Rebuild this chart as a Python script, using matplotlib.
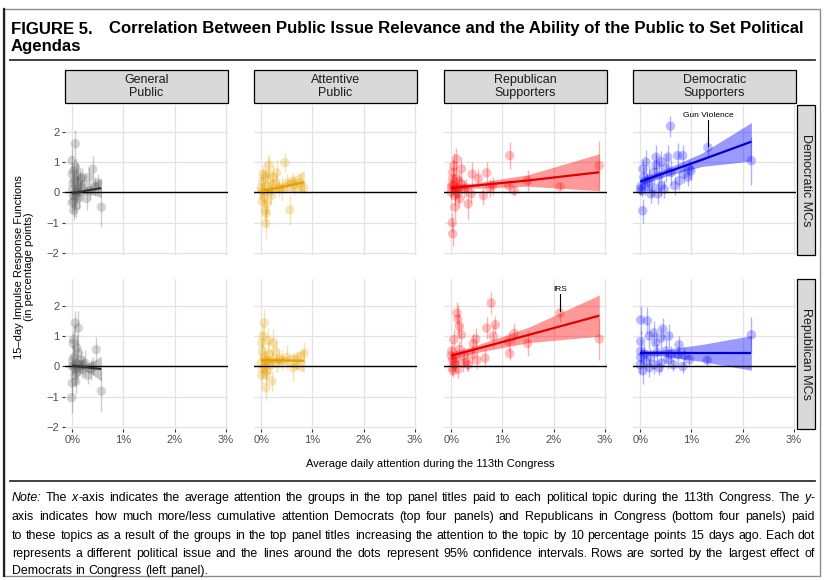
import matplotlib
matplotlib.use("Agg")
import matplotlib.pyplot as plt
from matplotlib.patches import Rectangle
from matplotlib.lines import Line2D
from matplotlib import font_manager
import numpy as np

# ---------------- data ----------------
COLUMNS = ["General\nPublic", "Attentive\nPublic", "Republican\nSupporters", "Democratic\nSupporters"]
ROWS = ["Democratic MCs", "Republican MCs"]
X_TICKS = [0, 1, 2, 3]
X_TICK_LABELS = ["0%", "1%", "2%", "3%"]
Y_TICKS = [-2, -1, 0, 1, 2]

# General public -> Democratic MCs
GEN_DEM_X = [0.06, 0.40, 0.57, 0.33, 0.24, 0.20, 0.10, 0.03, 0.00, 0.02, 0.05, 0.03, 0.00, 0.08, 0.12, 0.15, 0.01, 0.04, 0.07, 0.09, 0.13, 0.18, 0.28, 0.45, 0.50, 0.02, 0.06, 0.11, 0.00, 0.35, 0.03, 0.16]
GEN_DEM_Y = [1.60, 0.76, -0.49, 0.49, 0.25, 0.50, 0.55, 0.70, 1.05, 0.30, -0.15, -0.60, -0.35, -0.45, 0.20, 0.00, 0.10, 0.40, 0.80, 0.10, -0.20, 0.15, -0.20, 0.20, 0.30, -0.10, 0.00, 0.35, 0.60, 0.05, -0.30, 0.45]
GEN_DEM_E = [0.45, 0.45, 0.65, 0.30, 0.35, 0.30, 0.45, 0.40, 0.40, 0.35, 0.40, 0.30, 0.35, 0.35, 0.30, 0.30, 0.30, 0.50, 0.30, 0.40, 0.35, 0.25, 0.40, 0.30, 0.30, 0.20, 0.25, 0.60, 0.40, 0.30, 0.50, 0.35]
# General public -> Republican MCs
GEN_REP_X = [0.06, 0.12, 0.03, -0.01, 0.00, 0.47, 0.57, 0.02, 0.08, 0.10, 0.15, 0.20, 0.25, 0.30, 0.36, 0.04, 0.05, 0.00, 0.12, 0.18, 0.07, 0.01, 0.09, 0.14, 0.03, 0.22, 0.40, 0.06]
GEN_REP_Y = [1.43, 1.26, 0.88, -1.04, -0.55, 0.55, -0.82, 0.75, 0.10, -0.20, 0.05, -0.10, 0.10, -0.30, -0.10, 0.30, -0.30, 0.00, 0.45, 0.20, -0.50, 0.20, 0.60, -0.05, 0.00, 0.05, 0.00, -0.10]
GEN_REP_E = [0.40, 0.55, 0.45, 0.50, 0.40, 0.40, 0.70, 0.40, 0.30, 0.35, 0.30, 0.30, 0.45, 0.30, 0.35, 0.40, 0.35, 0.30, 0.40, 0.30, 0.40, 0.25, 0.45, 0.25, 0.20, 0.30, 0.30, 0.30]
# Attentive public -> Democratic MCs
ATT_DEM_X = [0.46, 0.84, 0.56, 0.09, 0.08, 0.11, 0.05, 0.14, 0.24, 0.28, 0.35, 0.40, 0.03, 0.00, 0.06, 0.12, 0.18, 0.02, 0.07, 0.20, 0.15, 0.30, 0.50, 0.65, 0.10, 0.01, 0.04, 0.22, 0.60, 0.75]
ATT_DEM_Y = [0.98, 0.14, -0.58, -1.03, -0.60, -0.38, -0.16, 0.60, 0.49, 0.30, 0.15, 0.10, 0.35, 0.15, 0.00, 0.20, 0.05, -0.30, 0.50, -0.10, 0.90, 0.65, 0.30, 0.25, -0.70, 0.05, 0.60, 0.25, 0.35, 0.30]
ATT_DEM_E = [0.30, 0.20, 0.50, 0.50, 0.35, 0.35, 0.30, 0.55, 0.40, 0.35, 0.30, 0.40, 0.40, 0.30, 0.35, 0.40, 0.45, 0.30, 0.45, 0.30, 0.35, 0.40, 0.30, 0.35, 0.45, 0.25, 0.30, 0.30, 0.30, 0.30]
# Attentive public -> Republican MCs
ATT_REP_X = [0.06, 0.04, 0.01, 0.09, 0.09, 0.21, 0.24, 0.28, 0.35, 0.84, 0.63, 0.50, 0.00, 0.03, 0.05, 0.07, 0.12, 0.15, 0.18, 0.22, 0.02, 0.11, 0.14, 0.30, 0.40, 0.01, 0.08, 0.70]
ATT_REP_Y = [1.43, 1.00, 0.78, -0.27, -0.71, -0.49, 0.78, 0.50, 0.25, 0.44, -0.05, 0.30, 0.10, -0.10, 0.30, 0.00, 0.15, 0.40, 0.05, 0.20, 0.50, -0.15, 0.85, 0.10, 0.20, -0.30, 0.20, 0.20]
ATT_REP_E = [0.45, 0.40, 0.35, 0.35, 0.40, 0.35, 0.45, 0.35, 0.30, 0.35, 0.45, 0.40, 0.30, 0.30, 0.35, 0.30, 0.35, 0.40, 0.30, 0.30, 0.30, 0.30, 0.40, 0.30, 0.35, 0.30, 0.30, 0.30]
# Republican supporters -> Democratic MCs
REPS_DEM_X = [2.89, 2.12, 1.49, 1.14, 1.23, 1.12, 0.81, 0.69, 0.63, 0.53, 0.41, 0.33, 0.39, 0.20, 0.20, 0.16, 0.10, 0.05, 0.03, 0.02, 0.03, 0.07, 0.07, 0.00, 0.03, 0.12, 0.15, 0.25, 0.00, 0.05, 0.09, 0.13, 0.28, 0.02, 0.75, 0.10]
REPS_DEM_Y = [0.88, 0.19, 0.38, 1.21, 0.05, 0.22, 0.22, 0.64, -0.11, 0.46, 0.60, -0.38, -0.05, 0.77, 0.27, -0.22, 1.10, 0.88, 0.44, -1.00, -1.37, -0.49, -0.11, 0.16, 0.66, 0.15, 0.35, 0.10, 0.00, 0.20, 0.05, -0.05, 0.15, 0.25, 0.15, 0.45]
REPS_DEM_E = [0.82, 0.12, 0.35, 0.44, 0.15, 0.20, 0.30, 0.35, 0.30, 0.30, 0.40, 0.50, 0.30, 0.40, 0.30, 0.30, 0.35, 0.40, 0.35, 0.30, 0.40, 0.40, 0.30, 0.30, 0.45, 0.30, 0.35, 0.30, 0.25, 0.30, 0.25, 0.30, 0.30, 0.30, 0.30, 0.40]
# Republican supporters -> Republican MCs
REPS_REP_X = [2.12, 2.89, 1.49, 1.23, 1.14, 1.12, 0.82, 0.86, 0.78, 0.69, 0.66, 0.48, 0.43, 0.41, 0.33, 0.16, 0.13, 0.11, 0.20, 0.05, 0.16, 0.03, 0.02, 0.07, 0.23, 0.13, 0.30, 0.00, 0.04, 0.09, 0.50, 0.01, 0.25, 0.06]
REPS_REP_Y = [1.76, 0.90, 0.75, 1.08, 0.42, 0.82, 0.99, 1.37, 2.09, 1.26, 0.27, 0.90, 0.75, 0.38, 0.05, 1.32, 1.56, 1.76, 1.04, 0.88, 0.55, 0.22, -0.05, 0.05, 0.10, -0.10, 0.15, 0.35, -0.15, 0.25, 0.20, 0.50, 0.35, 0.15]
REPS_REP_E = [0.30, 0.70, 0.40, 0.35, 0.20, 0.30, 0.40, 0.30, 0.35, 0.35, 0.30, 0.35, 0.30, 0.30, 0.20, 0.40, 0.45, 0.35, 0.40, 0.35, 0.30, 0.25, 0.25, 0.25, 0.30, 0.30, 0.30, 0.30, 0.20, 0.30, 0.30, 0.30, 0.30, 0.20]
# Democratic supporters -> Democratic MCs
DEMS_DEM_X = [1.32, 2.17, 0.59, 0.96, 0.99, 0.83, 0.73, 0.54, 0.41, 0.31, 0.31, 0.27, 0.11, 0.05, 0.07, 0.14, 0.41, 0.67, 0.76, 0.93, 0.03, 0.05, 0.24, 0.34, 0.47, 0.21, 0.00, 0.02, 0.18, 0.60, 0.10, 0.37, 0.85, 0.50]
DEMS_DEM_Y = [1.48, 1.04, 2.18, 0.77, 0.70, 1.21, 1.21, 1.16, 1.00, 1.16, 0.88, 0.66, 1.00, 0.77, 0.50, 0.33, 0.22, 0.22, 0.38, 0.50, 0.05, -0.61, 0.15, -0.05, 0.10, -0.05, 0.10, 0.20, 0.45, 0.65, 0.20, 0.55, 0.60, 0.80]
DEMS_DEM_E = [0.30, 0.80, 0.35, 0.30, 0.30, 0.35, 0.40, 0.40, 0.35, 0.40, 0.35, 0.40, 0.40, 0.30, 0.35, 0.30, 0.35, 0.30, 0.30, 0.30, 0.20, 0.40, 0.30, 0.35, 0.30, 0.30, 0.20, 0.25, 0.45, 0.40, 0.30, 0.50, 0.30, 0.45]
# Democratic supporters -> Republican MCs
DEMS_REP_X = [2.17, 0.01, 0.14, 0.44, 0.27, 0.18, 0.41, 0.56, 0.01, 0.01, 0.30, 0.76, 0.73, 0.86, 0.96, 1.31, 0.01, 0.11, 0.18, 0.27, 0.41, 0.37, 0.54, 0.60, 0.83, 0.05, 0.08, 0.20, 0.50, 0.65, 0.00, 0.33]
DEMS_REP_Y = [1.04, 1.53, 1.50, 1.23, 1.10, 1.00, 0.93, 1.00, 0.82, 0.50, 0.77, 0.71, 0.38, 0.35, 0.22, 0.20, 0.30, 0.17, -0.05, 0.05, 0.11, -0.05, 0.22, 0.38, -0.01, -0.15, 0.40, 0.30, 0.50, 0.05, 0.05, 0.45]
DEMS_REP_E = [0.60, 0.45, 0.45, 0.35, 0.40, 0.40, 0.35, 0.40, 0.35, 0.40, 0.35, 0.30, 0.30, 0.30, 0.20, 0.15, 0.30, 0.25, 0.30, 0.30, 0.30, 0.25, 0.30, 0.30, 0.20, 0.45, 0.35, 0.30, 0.40, 0.20, 0.30, 0.30]

# fitted lines with 95% ribbons
GEN_DEM_FX = [0.0, 0.15, 0.35, 0.57];  GEN_DEM_FY = [-0.03, 0.015, 0.075, 0.14]
GEN_DEM_LO = [-0.12, -0.04, -0.06, -0.17]; GEN_DEM_HI = [0.06, 0.07, 0.21, 0.48]
GEN_REP_FX = [0.0, 0.15, 0.35, 0.57];  GEN_REP_FY = [0.02, -0.01, -0.05, -0.09]
GEN_REP_LO = [-0.06, -0.07, -0.22, -0.49]; GEN_REP_HI = [0.10, 0.05, 0.12, 0.33]
ATT_DEM_FX = [0.0, 0.20, 0.50, 0.84];  ATT_DEM_FY = [0.03, 0.10, 0.21, 0.33]
ATT_DEM_LO = [-0.05, 0.03, 0.05, -0.03]; ATT_DEM_HI = [0.11, 0.17, 0.37, 0.72]
ATT_REP_FX = [0.0, 0.20, 0.50, 0.84];  ATT_REP_FY = [0.20, 0.20, 0.19, 0.18]
ATT_REP_LO = [0.10, 0.13, 0.05, -0.20]; ATT_REP_HI = [0.30, 0.27, 0.33, 0.56]
REPS_DEM_FX = [0.0, 0.40, 1.50, 2.89]; REPS_DEM_FY = [0.14, 0.21, 0.39, 0.66]
REPS_DEM_LO = [0.04, 0.13, 0.20, 0.05]; REPS_DEM_HI = [0.24, 0.29, 0.58, 1.27]
REPS_REP_FX = [0.0, 0.40, 1.50, 2.89]; REPS_REP_FY = [0.35, 0.53, 1.03, 1.67]
REPS_REP_LO = [0.22, 0.42, 0.78, 0.99]; REPS_REP_HI = [0.48, 0.64, 1.28, 2.35]
DEMS_DEM_FX = [0.0, 0.35, 1.20, 2.17]; DEMS_DEM_FY = [0.35, 0.56, 1.07, 1.67]
DEMS_DEM_LO = [0.22, 0.46, 0.85, 1.03]; DEMS_DEM_HI = [0.48, 0.66, 1.29, 2.30]
DEMS_REP_FX = [0.0, 0.35, 1.20, 2.17]; DEMS_REP_FY = [0.44, 0.44, 0.44, 0.44]
DEMS_REP_LO = [0.33, 0.36, 0.16, -0.13]; DEMS_REP_HI = [0.55, 0.52, 0.72, 1.01]

# labelled issues
LABEL_GUN = ("Gun Violence", 1.32, 1.48)
LABEL_IRS = ("IRS", 2.12, 1.76)

# ---------------- style / layout ----------------
names = {f.name for f in font_manager.fontManager.ttflist}
SANS = "Liberation Sans"
NARROW = "Liberation Sans Narrow" if "Liberation Sans Narrow" in names else "Liberation Sans"
plt.rcParams["font.family"] = [SANS, "DejaVu Sans"]

W, H = 828, 580
fig = plt.figure(figsize=(W / 100, H / 100), dpi=100)
renderer = fig.canvas.get_renderer()

def fx(px):
    return px / W

def fy(py):
    return 1 - py / H

def text_width(s, size, **kw):
    t = fig.text(0, 0, s, fontsize=size, **kw)
    w = t.get_window_extent(renderer).width
    t.remove()
    return w

COL_LEFT = [65, 254, 444, 633]
PW = 163
ROW_TB = [(105, 255), (279, 429)]
XLIM = (-0.14, 3.04)
YLIM = (-2.07, 2.88)

COLORS = ["#5a5a5a", "#E69F00", "#FF0000", "#0000FF"]
LINECOL = ["#333333", "#E69F00", "#E00000", "#0000CC"]

panels = {
    (0, 0): (GEN_DEM_X, GEN_DEM_Y, GEN_DEM_E, GEN_DEM_FX, GEN_DEM_FY, GEN_DEM_LO, GEN_DEM_HI),
    (1, 0): (GEN_REP_X, GEN_REP_Y, GEN_REP_E, GEN_REP_FX, GEN_REP_FY, GEN_REP_LO, GEN_REP_HI),
    (0, 1): (ATT_DEM_X, ATT_DEM_Y, ATT_DEM_E, ATT_DEM_FX, ATT_DEM_FY, ATT_DEM_LO, ATT_DEM_HI),
    (1, 1): (ATT_REP_X, ATT_REP_Y, ATT_REP_E, ATT_REP_FX, ATT_REP_FY, ATT_REP_LO, ATT_REP_HI),
    (0, 2): (REPS_DEM_X, REPS_DEM_Y, REPS_DEM_E, REPS_DEM_FX, REPS_DEM_FY, REPS_DEM_LO, REPS_DEM_HI),
    (1, 2): (REPS_REP_X, REPS_REP_Y, REPS_REP_E, REPS_REP_FX, REPS_REP_FY, REPS_REP_LO, REPS_REP_HI),
    (0, 3): (DEMS_DEM_X, DEMS_DEM_Y, DEMS_DEM_E, DEMS_DEM_FX, DEMS_DEM_FY, DEMS_DEM_LO, DEMS_DEM_HI),
    (1, 3): (DEMS_REP_X, DEMS_REP_Y, DEMS_REP_E, DEMS_REP_FX, DEMS_REP_FY, DEMS_REP_LO, DEMS_REP_HI),
}

axes = {}
for (r, c), (xs, ys, es, fxs, fys, los, his) in panels.items():
    top, bot = ROW_TB[r]
    ax = fig.add_axes([fx(COL_LEFT[c]), fy(bot), PW / W, (bot - top) / H])
    axes[(r, c)] = ax
    ax.set_xlim(*XLIM)
    ax.set_ylim(*YLIM)
    ax.set_xticks(X_TICKS)
    ax.set_yticks(Y_TICKS)
    ax.set_axisbelow(True)
    ax.grid(True, color="#e3e3e3", lw=0.9)
    for s in ax.spines.values():
        s.set_visible(False)
    xs = np.asarray(xs); ys = np.asarray(ys); es = np.asarray(es)
    col = COLORS[c]
    ax.vlines(xs, ys - es, ys + es, color=col, alpha=0.3, lw=1.0, zorder=2)
    ax.scatter(xs, ys, s=46, color=col, alpha=0.26, edgecolors="none", zorder=3)
    ax.fill_between(fxs, los, his, color=col, alpha=0.4 if c >= 2 else 0.35, lw=0, zorder=4)
    ax.axhline(0, color="black", lw=1.0, zorder=5)
    ax.plot(fxs, fys, color=LINECOL[c], lw=1.6, zorder=6, solid_capstyle="butt")

    ax.tick_params(axis="both", length=2.5, width=0.8, color="#333333",
                   labelcolor="#4d4d4d", labelsize=8, pad=1.5)
    ax.set_xticklabels(X_TICK_LABELS)
    if c != 0:
        ax.tick_params(axis="y", left=False, labelleft=False)
    if r != 1:
        ax.tick_params(axis="x", bottom=False, labelbottom=False)

# annotations
for (r, c), (lab, lx, ly) in [((0, 3), LABEL_GUN), ((1, 2), LABEL_IRS)]:
    ax = axes[(r, c)]
    ax.plot([lx, lx], [ly + 0.05, 2.38], color="black", lw=0.8, zorder=7)
    ax.text(lx, 2.42, lab, ha="center", va="bottom", fontsize=6, color="black", zorder=7)

# strips
for c, lab in enumerate(COLUMNS):
    fig.add_artist(Rectangle((fx(COL_LEFT[c]), fy(103)), PW / W, 33 / H,
                             transform=fig.transFigure, facecolor="#d9d9d9",
                             edgecolor="black", lw=0.9))
    fig.text(fx(COL_LEFT[c] + PW / 2), fy(86.5), lab, ha="center", va="center",
             fontsize=9, color="#1a1a1a", linespacing=1.05)
for r, lab in enumerate(ROWS):
    top, bot = ROW_TB[r]
    fig.add_artist(Rectangle((fx(797), fy(bot)), 18 / W, (bot - top) / H,
                             transform=fig.transFigure, facecolor="#d9d9d9",
                             edgecolor="black", lw=0.9))
    fig.text(fx(806), fy((top + bot) / 2), lab, ha="center", va="center",
             rotation=-90, fontsize=9, color="#1a1a1a")

# axis titles
fig.text(fx(430), fy(464), "Average daily attention during the 113th Congress",
         ha="center", va="center", fontsize=8, color="black")
fig.text(fx(24), fy(267), "15\u2013day Impulse Response Functions\n(in percentage points)",
         ha="center", va="center", rotation=90, fontsize=8, color="black", linespacing=1.1)

# title (size chosen so the first line spans the same width as in the reference)
TITLE_1 = "Correlation Between Public Issue Relevance and the Ability of the Public to Set Political"
tw = text_width(TITLE_1, 10, fontweight="bold", family=[NARROW, SANS])
TSIZE = 10 * 697 / tw
fig.text(fx(11), fy(29), "FIGURE 5.", ha="left", va="center", fontsize=TSIZE,
         fontweight="bold", family=[NARROW, SANS])
fig.text(fx(109), fy(29), TITLE_1, ha="left", va="center", fontsize=TSIZE,
         fontweight="bold", family=[NARROW, SANS])
fig.text(fx(11), fy(46), "Agendas", ha="left", va="center", fontsize=TSIZE,
         fontweight="bold", family=[NARROW, SANS])

# rules and frame
fig.add_artist(Line2D([fx(10), fx(815)], [fy(60), fy(60)], color="#333333", lw=1.3))
fig.add_artist(Line2D([fx(10), fx(815)], [fy(481), fy(481)], color="#333333", lw=1.3))
fig.add_artist(Rectangle((fx(4), fy(576)), 816 / W, 567 / H, transform=fig.transFigure,
                         facecolor="none", edgecolor="#8c8c8c", lw=1.0))
fig.add_artist(Line2D([fx(4), fx(4)], [fy(9), fy(576)], color="#222222", lw=1.6))

# note, justified
NOTE_LINES = [
    "_Note:_ The _x_-axis indicates the average attention the groups in the top panel titles paid to each political topic during the 113th Congress. The _y_-",
    "axis indicates how much more/less cumulative attention Democrats (top four panels) and Republicans in Congress (bottom four panels) paid",
    "to these topics as a result of the groups in the top panel titles increasing the attention to the topic by 10 percentage points 15 days ago. Each dot",
    "represents a different political issue and the lines around the dots represent 95% confidence intervals. Rows are sorted by the largest effect of",
    "Democrats in Congress (left panel).",
]
NOTE_Y = [498, 517, 536, 554, 571]
NOTE_L, NOTE_R = 12, 815

nw = text_width(NOTE_LINES[2], 8, family=[NARROW, SANS])
NOTE_SIZE = 8 * 797 / nw

def make_word(word, x, y):
    parts = word.split("_")
    arts = []
    cur = x
    for i, p in enumerate(parts):
        if not p:
            continue
        t = fig.text(fx(cur), fy(y), p, ha="left", va="center", fontsize=NOTE_SIZE,
                     style="italic" if i % 2 == 1 else "normal", family=[NARROW, SANS])
        w = t.get_window_extent(renderer).width
        arts.append((t, cur))
        cur += w
    return arts, cur - x

SPACE_W = (text_width("a a", NOTE_SIZE, family=[NARROW, SANS])
           - text_width("aa", NOTE_SIZE, family=[NARROW, SANS]))

for li, (line, y) in enumerate(zip(NOTE_LINES, NOTE_Y)):
    words = line.split(" ")
    built = [make_word(w, NOTE_L, y) for w in words]
    total = sum(b[1] for b in built)
    last = li == len(NOTE_LINES) - 1
    gap = SPACE_W if last else (NOTE_R - NOTE_L - total) / (len(words) - 1)
    x = NOTE_L
    for arts, w in built:
        for t, x0 in arts:
            t.set_x(fx(x + (x0 - NOTE_L)))
        x += w + gap

fig.savefig("out.png", dpi=100)
